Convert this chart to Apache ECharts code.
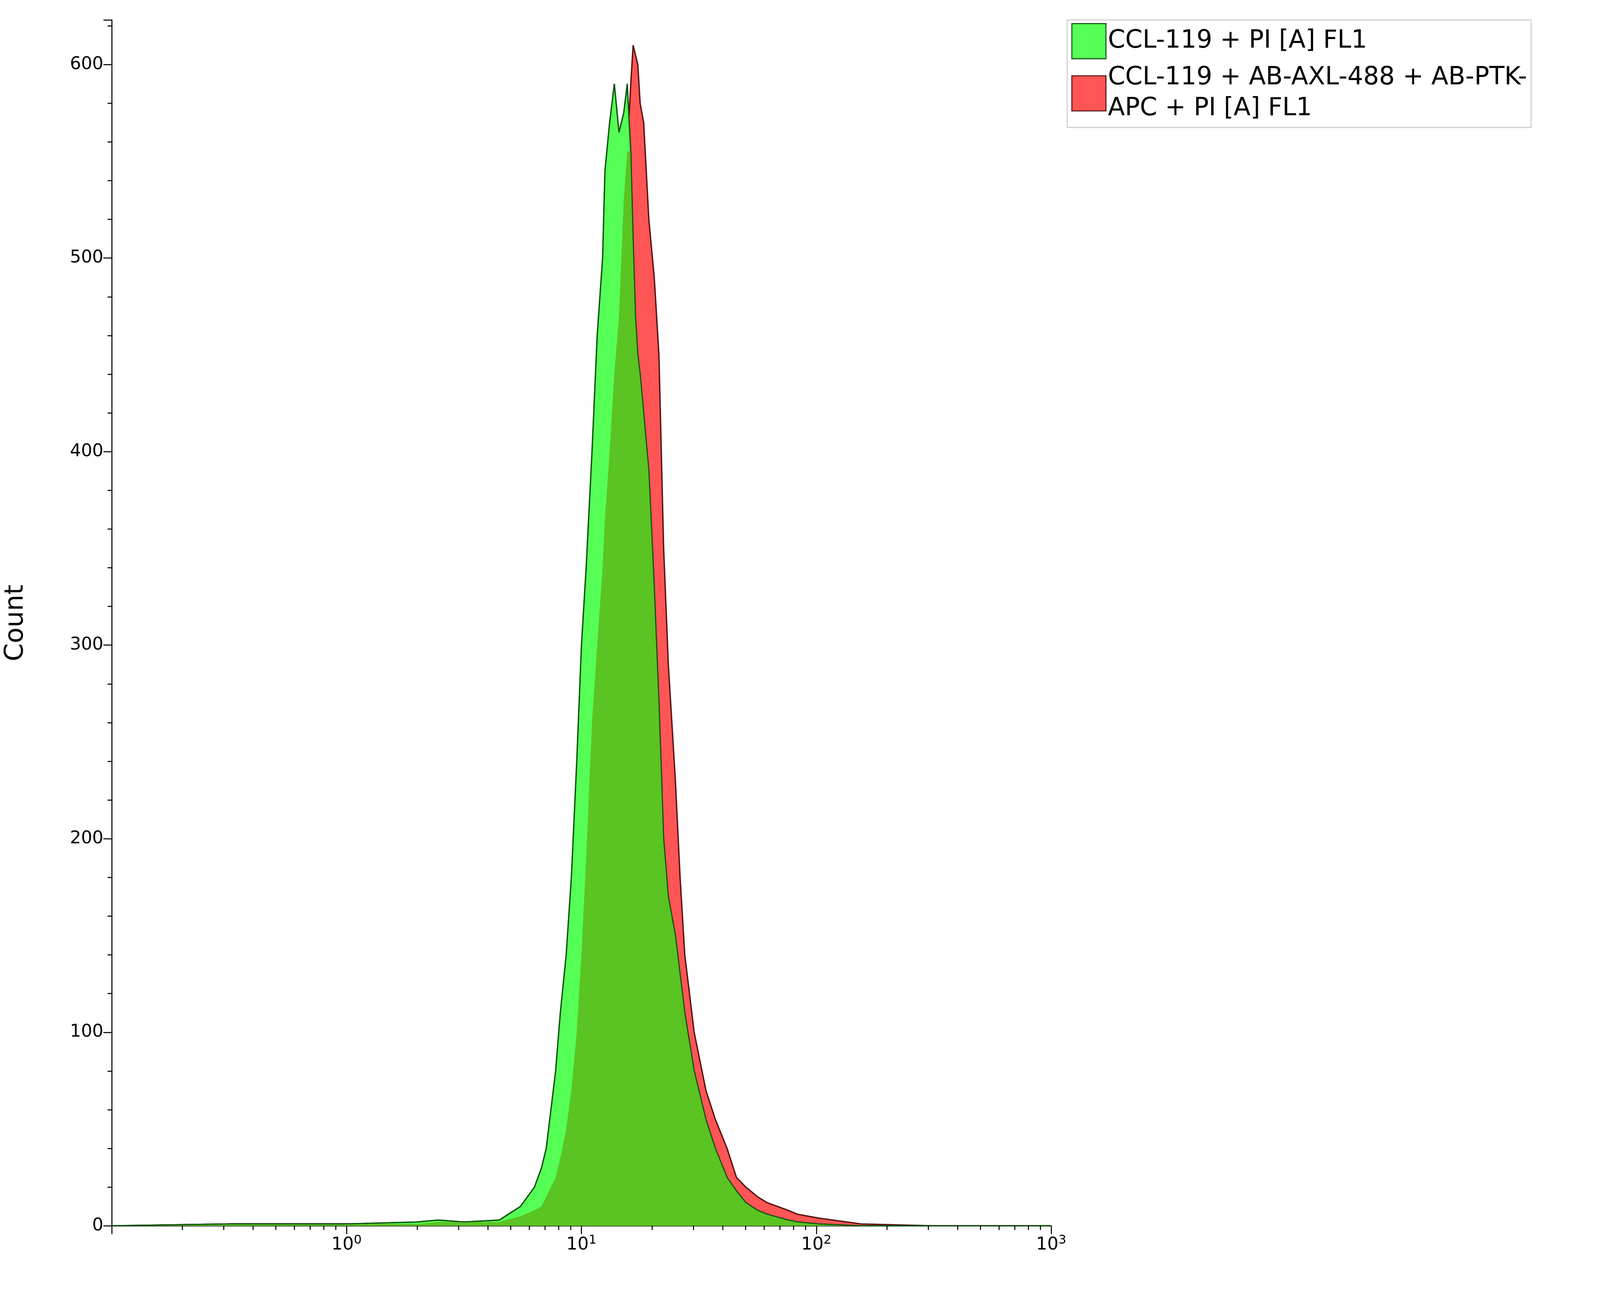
<!DOCTYPE html>
<html><head><meta charset="utf-8">
<script src="https://cdn.jsdelivr.net/npm/echarts@6/dist/echarts.min.js"></script>
<style>html,body{margin:0;padding:0;background:#fff;overflow:hidden}#c{width:100vw;height:100vh}</style>
</head><body><div id="c"></div>
<script>
const binLog = [-1,-0.5,0,0.3,0.39,0.5,0.65,0.74,0.80,0.83,0.85,0.89,0.91,0.935,0.957,0.98,1.0,1.02,1.045,1.067,1.09,1.10,1.12,1.14,1.16,1.18,1.195,1.21,1.22,1.23,1.24,1.25,1.265,1.287,1.31,1.33,1.35,1.37,1.40,1.42,1.44,1.48,1.53,1.57,1.62,1.66,1.70,1.75,1.79,1.88,1.92,2.01,2.19,2.5,3];
const greenCounts = [0,1,1,2,3,2,3,10,20,30,40,80,110,140,180,240,300,340,400,460,500,545,570,590,565,575,590,555,510,470,450,440,420,390,330,270,200,170,150,130,110,80,55,40,25,18,12,8,6,3,2,1,0,0,0];
const redCounts = [0,1,1,1,2,2,2,5,8,10,15,25,35,50,70,100,140,190,260,300,340,365,400,440,470,530,555,590,610,605,600,580,570,520,490,450,350,290,230,180,140,100,70,55,40,25,20,15,12,8,6,4,1,0,0];
const seriesNames = ['CCL-119 + PI [A] FL1','CCL-119 + AB-AXL-488 + AB-PTK-APC + PI [A] FL1'];
const legendLabels = ['CCL-119 + PI [A] FL1','CCL-119 + AB-AXL-488 + AB-PTK-\nAPC + PI [A] FL1'];

const xs = binLog.map(l => Math.pow(10, l));
const green = xs.map((x,i)=>[x, greenCounts[i]]);
const red = xs.map((x,i)=>[x, redCounts[i]]);
const overlap = xs.map((x,i)=>[x, Math.min(greenCounts[i], redCounts[i])]);
const minorVals = [];
for (let d=-1; d<3; d++) for (let m=2; m<10; m++) minorVals.push([m*Math.pow(10,d), 0]);

const s = window.innerWidth/1548;
const F = 'DejaVu Sans';
const chart = echarts.init(document.getElementById('c'));
chart.setOption({
  animation:false,
  grid:{left:'6.98%',top:'1.55%',right:'34.3%',bottom:'4.9%'},
  legend:{
    left:'66.7%', top:'1.55%', orient:'vertical', itemGap:3*s, icon:'rect',
    backgroundColor:'#fff', borderColor:'#ccc', borderWidth:1*s, padding:[3*s,4*s,3*s,4*s],
    itemWidth:33*s, itemHeight:34*s,
    data:[{name:seriesNames[0],itemStyle:{color:'#55ff55',borderColor:'#115511',borderWidth:1*s}},
          {name:seriesNames[1],itemStyle:{color:'#ff5555',borderColor:'#551111',borderWidth:1*s}}],
    formatter:n=>legendLabels[seriesNames.indexOf(n)],
    textStyle:{fontFamily:F,fontSize:24*s,color:'#000',lineHeight:30*s}
  },
  xAxis:{type:'log',min:0.1,max:1000,logBase:10,
    axisLine:{lineStyle:{color:'#000',width:1*s}},
    axisTick:{length:8*s,lineStyle:{color:'#000',width:1*s}},
    splitLine:{show:false},
    axisLabel:{fontFamily:F,fontSize:17*s,color:'#000',margin:8*s,
      formatter:v=>{ if (v<0.5) return ''; const e=Math.round(Math.log10(v)); return '10{s|'+e+'}'; },
      rich:{s:{fontFamily:F,fontSize:12*s,verticalAlign:'top',padding:[0,0,9*s,0]}}}
  },
  yAxis:{type:'value',min:0,max:623,interval:100,name:'Count',nameLocation:'middle',nameGap:80*s,
    nameTextStyle:{fontFamily:F,fontSize:25*s,color:'#000'},
    axisLine:{show:true,lineStyle:{color:'#000',width:1*s}},
    axisTick:{length:8*s,lineStyle:{color:'#000',width:1*s}},
    minorTick:{show:true,splitNumber:5,length:4*s,lineStyle:{color:'#000',width:1*s}},
    splitLine:{show:false},
    axisLabel:{fontFamily:F,fontSize:17*s,color:'#000',margin:8*s,showMaxLabel:false,
      formatter:v=>v>=620?'':String(v)}
  },
  series:[
    {name:seriesNames[1],type:'line',data:red,symbol:'none',z:2,
      itemStyle:{color:'#ff5555'},lineStyle:{color:'#551111',width:1.3*s},areaStyle:{color:'#ff5555',opacity:1}},
    {name:seriesNames[0],type:'line',data:green,symbol:'none',z:3,
      itemStyle:{color:'#55ff55'},lineStyle:{color:'#115511',width:1.3*s},areaStyle:{color:'#55ff55',opacity:1}},
    {name:'overlap',type:'line',data:overlap,symbol:'none',z:4,
      lineStyle:{width:0},areaStyle:{color:'#5ac422',opacity:1}},
    {name:'greenEdge',type:'line',data:green,symbol:'none',z:5,lineStyle:{color:'#115511',width:1*s}},
    {name:'minor',type:'custom',data:minorVals,z:6,silent:true,
      renderItem:(params,api)=>{const p=api.coord([api.value(0),0]);
        return {type:'line',shape:{x1:p[0],y1:p[1],x2:p[0],y2:p[1]+4*s},style:{stroke:'#000',lineWidth:1*s}};}}
  ]
});
</script></body></html>
